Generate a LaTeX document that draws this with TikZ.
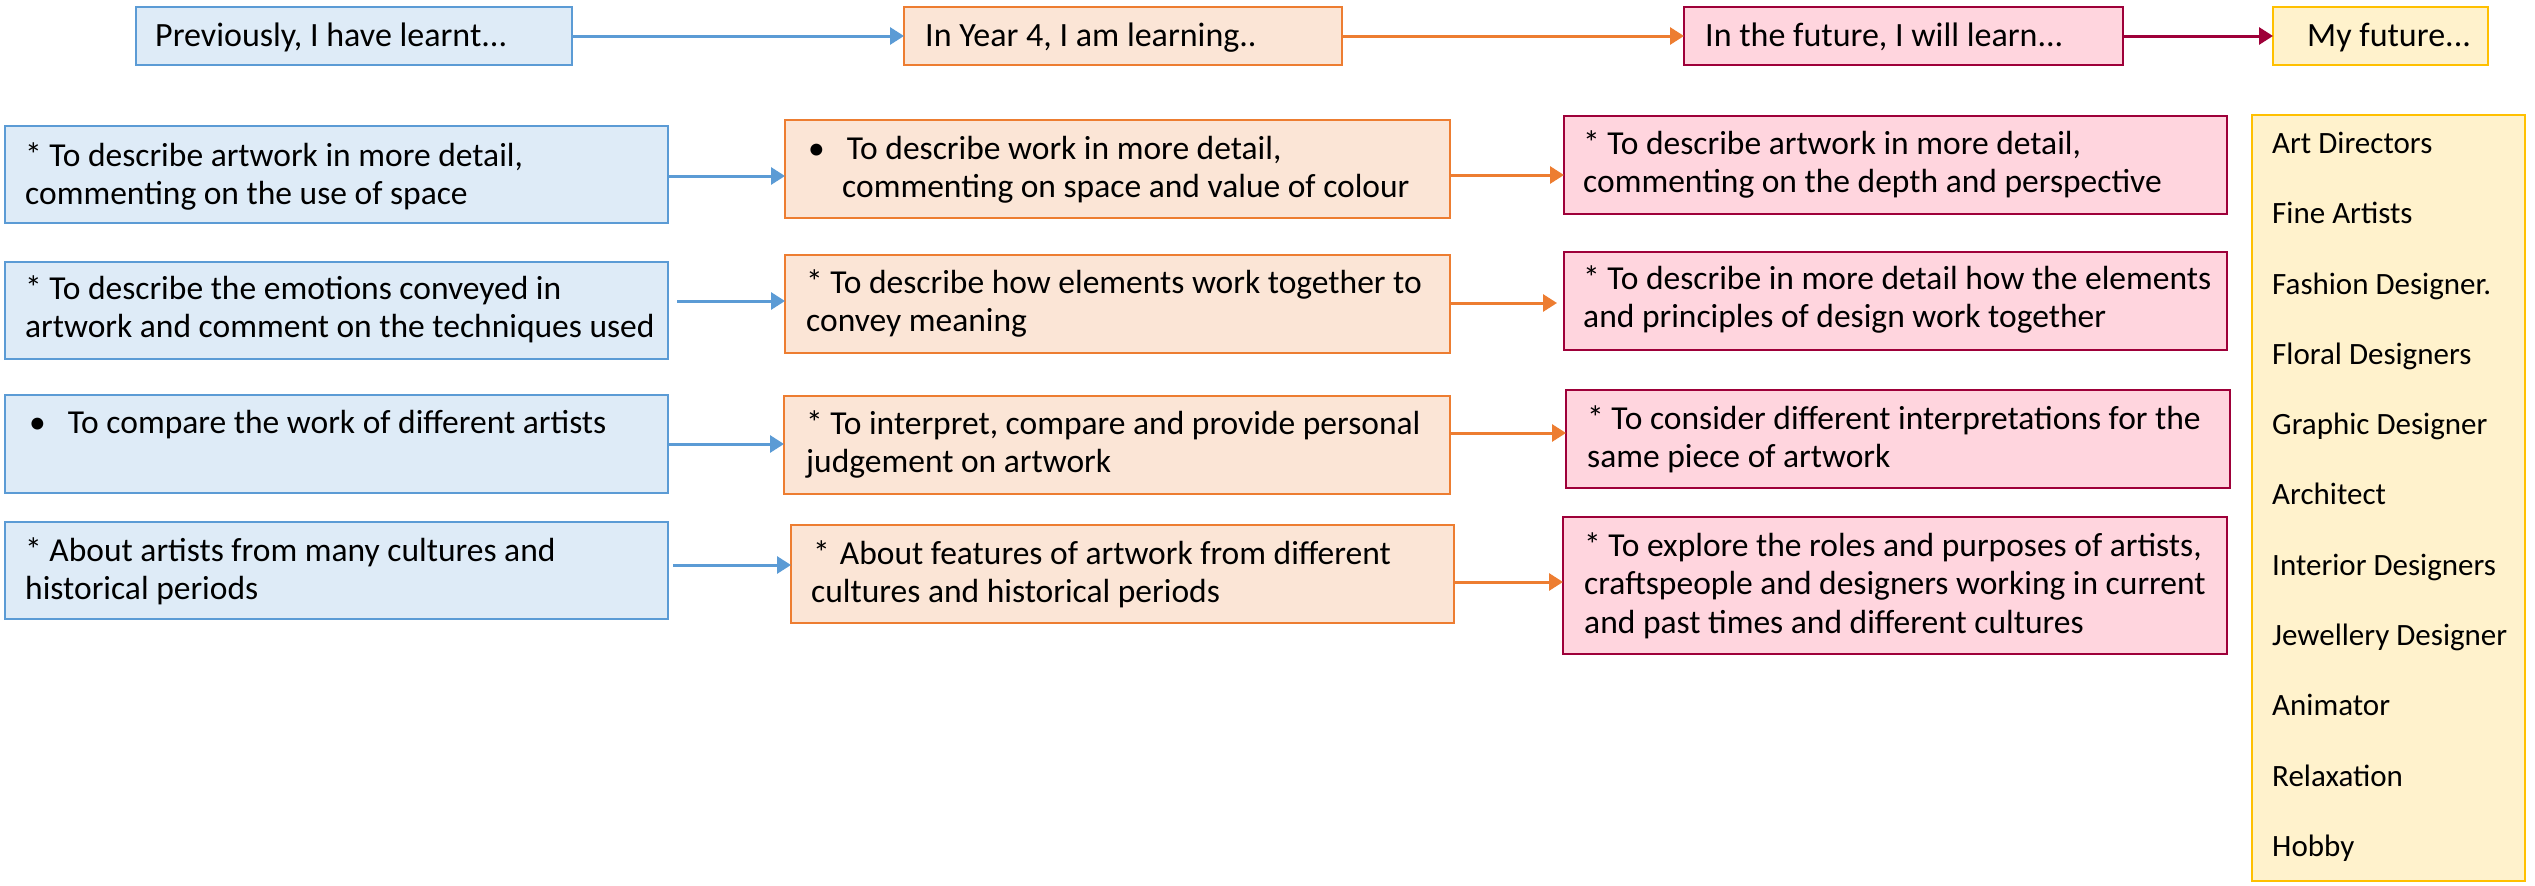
\documentclass[tikz,border=0pt]{standalone}
\usepackage{fontspec}
\setmainfont{Carlito}
\usetikzlibrary{arrows.meta,calc}
\definecolor{bfill}{HTML}{DEEBF7}
\definecolor{bbord}{HTML}{5B9BD5}
\definecolor{ofill}{HTML}{FBE5D6}
\definecolor{obord}{HTML}{ED7D31}
\definecolor{pfill}{HTML}{FFD5DE}
\definecolor{pbord}{HTML}{9E0039}
\definecolor{yfill}{HTML}{FFF2CC}
\definecolor{ybord}{HTML}{FFC000}
\newcommand{\mybox}[6]{\node[#1, minimum width={(#4)-(#2)}, minimum height={(#5)-(#3)}] (#6) at (#2,#3) {};}
\tikzset{
  boxbase/.style={anchor=north west, inner sep=0pt, outer sep=0pt, line width=2.5pt},
  bbox/.style={boxbase, draw=bbord, fill=bfill},
  obox/.style={boxbase, draw=obord, fill=ofill},
  pbox/.style={boxbase, draw=pbord, fill=pfill},
  ybox/.style={boxbase, draw=ybord, fill=yfill},
  txt/.style={inner sep=0pt, anchor=north west, align=left, font=\fontsize{33.5}{38.5}\selectfont},
  htxt/.style={inner sep=0pt, anchor=north west, align=left, font=\fontsize{34}{38.5}\selectfont},
  listtxt/.style={inner sep=0pt, anchor=north west, align=left, font=\fontsize{31}{70.3}\selectfont},
  arrbase/.style={line width=3pt, -{Triangle[length=14pt,width=17pt]}},
  barr/.style={arrbase, draw=bbord},
  oarr/.style={arrbase, draw=obord},
  parr/.style={arrbase, draw=pbord},
}
\begin{document}
\begin{tikzpicture}[x=1pt,y=-1pt]
\useasboundingbox (0,0) rectangle (2535,886);
% header boxes
\mybox{bbox}{136}{7}{572}{65}{h1}
\mybox{obox}{904}{7}{1342}{65}{h2}
\mybox{pbox}{1684}{7}{2123}{65}{h3}
\mybox{ybox}{2273}{7}{2488}{65}{h4}
\node[htxt] (h1t) at (155,19) {\strut Previously, I have learnt...};
\node[htxt] (h2t) at (925,19) {\strut In Year 4, I am learning..};
\node[htxt] (h3t) at (1705,19) {\strut In the future, I will learn...};
\node[htxt] (h4t) at (2307,19) {\strut My future...};
\draw[barr] (h1.east) -- (h2.west);
\draw[oarr] (h2.east) -- (h3.west);
\draw[parr] (h3.east) -- (h4.west);
% blue column
\mybox{bbox}{5}{126}{668}{223}{b1}
\mybox{bbox}{5}{262}{668}{359}{b2}
\mybox{bbox}{5}{395}{668}{493}{b3}
\mybox{bbox}{5}{522}{668}{619}{b4}
% orange column
\mybox{obox}{785}{120}{1450}{218}{o1}
\mybox{obox}{785}{255}{1450}{353}{o2}
\mybox{obox}{784}{396}{1450}{494}{o3}
\mybox{obox}{791}{525}{1454}{623}{o4}
% pink column
\mybox{pbox}{1564}{116}{2227}{214}{p1}
\mybox{pbox}{1564}{252}{2227}{350}{p2}
\mybox{pbox}{1566}{390}{2230}{488}{p3}
\mybox{pbox}{1563}{517}{2227}{654}{p4}
% yellow list
\mybox{ybox}{2252}{115}{2525}{881}{yl}
% texts
\node[txt] (b1t) at (25,139) {\strut * To describe artwork in more detail,\\commenting on the use of space};
\node[txt] (b2t) at (25,272) {\strut * To describe the emotions conveyed in\\artwork and comment on the techniques used};
\node[txt] (b3t) at (29,406) {\strut •\hspace{22pt}To compare the work of different artists};
\node[txt] (b4t) at (25,534) {\strut * About artists from many cultures and\\historical periods};
\node[txt] (o1t) at (808,132) {\strut •\hspace{22pt}To describe work in more detail,\\\hspace*{34pt}commenting on space and value of colour};
\node[txt] (o2t) at (806,266) {\strut * To describe how elements work together to\\convey meaning};
\node[txt] (o3t) at (806,407) {\strut * To interpret, compare and provide personal\\judgement on artwork};
\node[txt] (o4t) at (811,537) {\strut \hspace*{2pt}*\hspace{10pt}About features of artwork from different\\cultures and historical periods};
\node[txt] (p1t) at (1583,127) {\strut * To describe artwork in more detail,\\commenting on the depth and perspective};
\node[txt] (p2t) at (1583,262) {\strut * To describe in more detail how the elements\\and principles of design work together};
\node[txt] (p3t) at (1587,402) {\strut * To consider different interpretations for the\\same piece of artwork};
\node[txt] (p4t) at (1584,529) {\strut * To explore the roles and purposes of artists,\\craftspeople and designers working in current\\and past times and different cultures};
\node[listtxt] (ylt) at (2272,104) {\strut Art Directors\\Fine Artists\\Fashion Designer.\\Floral Designers\\Graphic Designer\\Architect\\Interior Designers\\Jewellery Designer\\Animator\\Relaxation\\Hobby};
% row arrows
\draw[barr] (b1.east |- 0,176) -- (o1.west |- 0,176);
\draw[barr] ($(b2.east |- 0,301)+(9,0)$) -- (o2.west |- 0,301);
\draw[barr] (b3.east |- 0,444) -- (o3.west |- 0,444);
\draw[barr] ($(b4.east |- 0,565)+(5,0)$) -- (o4.west |- 0,565);
\draw[oarr] (o1.east |- 0,175) -- (p1.west |- 0,175);
\draw[oarr] (o2.east |- 0,303) -- ($(p2.west |- 0,303)+(-7,0)$);
\draw[oarr] (o3.east |- 0,433) -- (p3.west |- 0,433);
\draw[oarr] (o4.east |- 0,582) -- (p4.west |- 0,582);
\end{tikzpicture}
\end{document}
